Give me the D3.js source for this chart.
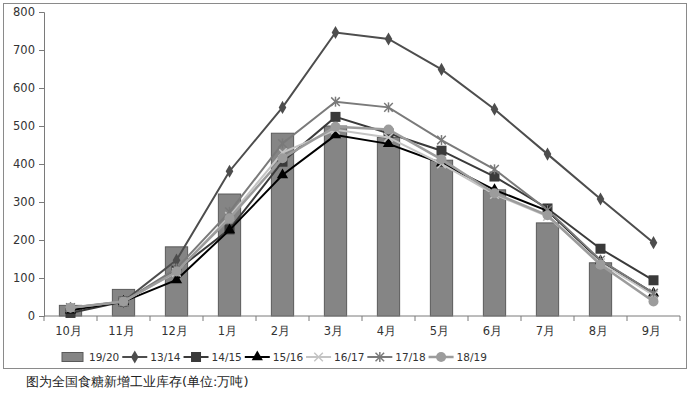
<!DOCTYPE html>
<html>
<head>
<meta charset="utf-8">
<script src="https://cdn.jsdelivr.net/npm/d3@7"></script>
<style>
  body { margin: 0; background: #fff; }
  svg text { font-family: "DejaVu Sans", Verdana, sans-serif; }
</style>
</head>
<body>
<svg id="chart" width="691" height="399"></svg>
<script>
// months on the x axis
const months = ["10月", "11月", "12月", "1月", "2月", "3月", "4月", "5月", "6月", "7月", "8月", "9月"];
const yTicks = [0, 100, 200, 300, 400, 500, 600, 700, 800];

// bar series 19/20 (no value for 9月 yet)
const s1920 = [28, 70, 182, 321, 481, 500, 470, 410, 332, 245, 140, null];

// line series
const s1314 = [20, 38, 147, 381, 549, 746, 729, 649, 544, 426, 308, 193];
const s1415 = [8, 38, 120, 228, 406, 524, 481, 435, 367, 283, 177, 94];
const s1516 = [15, 38, 95, 226, 371, 476, 453, 402, 332, 277, 145, 60];
const s1617 = [22, 38, 115, 262, 430, 490, 470, 400, 320, 262, 140, 55];
const s1718 = [22, 38, 125, 274, 454, 564, 549, 463, 386, 279, 147, 60];
const s1819 = [22, 38, 117, 257, 415, 498, 491, 412, 323, 265, 135, 38];

const lineSeries = [
  {name: "13/14", values: s1314, color: "#4d4d4d", marker: "diamond", width: 2},
  {name: "14/15", values: s1415, color: "#3a3a3a", marker: "square", width: 2},
  {name: "15/16", values: s1516, color: "#000000", marker: "triangle", width: 2},
  {name: "16/17", values: s1617, color: "#c4c4c4", marker: "cross", width: 2},
  {name: "17/18", values: s1718, color: "#7a7a7a", marker: "star", width: 2},
  {name: "18/19", values: s1819, color: "#9c9c9c", marker: "circle", width: 2.5}
];

const margin = {top: 12, left: 44, right: 11, bottom: 83};
const W = 691, H = 399;
const svg = d3.select("#chart");

// outer frame
svg.append("rect")
  .attr("x", 3.5).attr("y", 3.5)
  .attr("width", 683).attr("height", 365)
  .attr("fill", "none")
  .attr("stroke", "#8a8a8a");

const x = d3.scaleBand().domain(months).range([margin.left, W - margin.right]).paddingInner(0.58).paddingOuter(0.29);
const xCenter = d => x(d) + x.bandwidth() / 2;
const y = d3.scaleLinear().domain([0, 800]).range([H - margin.bottom, margin.top]);

// bars
svg.append("g").selectAll("rect")
  .data(months.map((m, i) => ({m, v: s1920[i]})).filter(d => d.v != null))
  .join("rect")
  .attr("x", d => x(d.m))
  .attr("y", d => y(d.v))
  .attr("width", x.bandwidth())
  .attr("height", d => y(0) - y(d.v))
  .attr("fill", "#858585")
  .attr("stroke", "#5a5a5a")
  .attr("stroke-width", 1);

// y axis
const yAxis = d3.axisLeft(y).tickValues(yTicks).tickSize(5).tickPadding(4);
const gy = svg.append("g").attr("transform", `translate(${margin.left},0)`).call(yAxis);
gy.select(".domain").attr("stroke", "#7a7a7a");
gy.selectAll(".tick line").attr("stroke", "#7a7a7a");
gy.selectAll("text").attr("font-size", 11.5).attr("fill", "#333")
  .attr("font-family", "DejaVu Sans");

// x axis: ticks at category boundaries
const step = x.step();
const gx = svg.append("g").attr("transform", `translate(0,${y(0)})`);
gx.append("line")
  .attr("x1", margin.left).attr("x2", W - margin.right)
  .attr("stroke", "#7a7a7a");
gx.selectAll("line.tk")
  .data(d3.range(months.length + 1))
  .join("line").attr("class", "tk")
  .attr("x1", i => margin.left + i * step).attr("x2", i => margin.left + i * step)
  .attr("y1", 0).attr("y2", 5)
  .attr("stroke", "#7a7a7a");
gx.selectAll("text")
  .data(months)
  .join("text")
  .attr("x", d => xCenter(d) - 2)
  .attr("y", 19)
  .attr("text-anchor", "middle")
  .attr("font-size", 11.5)
  .attr("fill", "#333")
  .attr("font-family", "DejaVu Sans, Noto Sans CJK SC")
  .text(d => d);

// marker shapes
function drawMarker(g, type, cx, cy, color) {
  if (type === "diamond") {
    g.append("path").attr("d", d3.symbol(d3.symbolDiamond, 50)()).attr("transform", `translate(${cx},${cy})`).attr("fill", color);
  } else if (type === "square") {
    g.append("rect").attr("x", cx - 5).attr("y", cy - 5).attr("width", 10).attr("height", 10).attr("fill", color);
  } else if (type === "triangle") {
    g.append("path").attr("d", d3.symbol(d3.symbolTriangle, 55)()).attr("transform", `translate(${cx},${cy})`).attr("fill", color);
  } else if (type === "cross") {
    g.append("path").attr("d", d3.symbol(d3.symbolX, 50)()).attr("transform", `translate(${cx},${cy})`)
      .attr("fill", "none").attr("stroke", color).attr("stroke-width", 1.5);
  } else if (type === "star") {
    g.append("path").attr("d", d3.symbol(d3.symbolTimes, 50)()).attr("transform", `translate(${cx},${cy})`)
      .attr("fill", "none").attr("stroke", color).attr("stroke-width", 1.5);
    g.append("line").attr("x1", cx).attr("x2", cx).attr("y1", cy - 5).attr("y2", cy + 5).attr("stroke", color).attr("stroke-width", 1.5);
  } else if (type === "circle") {
    g.append("circle").attr("cx", cx).attr("cy", cy).attr("r", 5).attr("fill", color);
  }
}

// lines
const line = d3.line().x((d, i) => xCenter(months[i])).y(d => y(d));
for (const s of lineSeries) {
  const g = svg.append("g");
  g.append("path")
    .attr("d", line(s.values))
    .attr("fill", "none")
    .attr("stroke", s.color)
    .attr("stroke-width", s.width);
  s.values.forEach((v, i) => drawMarker(g, s.marker, xCenter(months[i]), y(v), s.color));
}

// legend
const legend = svg.append("g").attr("transform", "translate(0,357)");
let lx = 62;
legend.append("rect").attr("x", lx).attr("y", -4.5).attr("width", 21).attr("height", 9)
  .attr("fill", "#858585").attr("stroke", "#5a5a5a");
const t0 = legend.append("text").attr("x", lx + 27).attr("y", 4).attr("font-size", 10.5).attr("fill", "#333").text("19/20");
lx = lx + 27 + t0.node().getComputedTextLength() + 3;
for (const s of lineSeries) {
  const lg = legend.append("g");
  lg.append("line").attr("x1", lx).attr("x2", lx + 25).attr("y1", 0).attr("y2", 0)
    .attr("stroke", s.color).attr("stroke-width", s.width);
  drawMarker(lg, s.marker, lx + 12.5, 0, s.color);
  const t = lg.append("text").attr("x", lx + 28).attr("y", 4).attr("font-size", 10.5).attr("fill", "#333").text(s.name);
  lx = lx + 28 + t.node().getComputedTextLength() + 3;
}

// caption
svg.append("text")
  .attr("x", 26).attr("y", 386)
  .attr("font-size", 13)
  .attr("fill", "#222")
  .attr("font-family", "Noto Sans CJK SC")
  .text("图为全国食糖新增工业库存(单位:万吨)");
</script>
</body>
</html>
